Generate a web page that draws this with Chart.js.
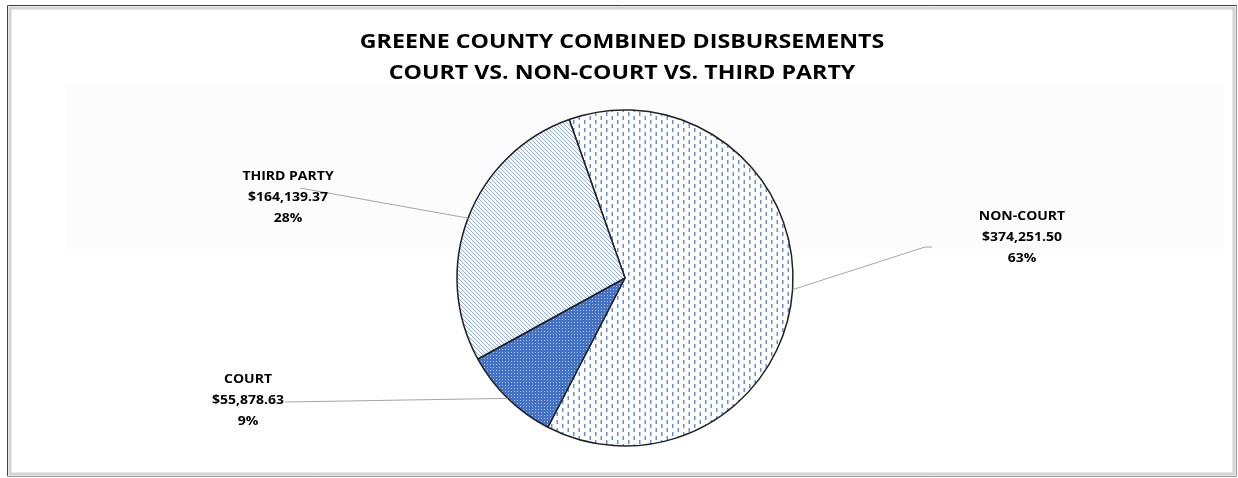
<!DOCTYPE html>
<html>
<head>
<meta charset="utf-8">
<script src="https://cdn.jsdelivr.net/npm/chart.js@4.4.1/dist/chart.umd.min.js"></script>
<style>
  html, body { margin: 0; padding: 0; background: #fff; }
  #wrap { position: relative; width: 1238px; height: 478px; }
</style>
</head>
<body>
<div id="wrap"><canvas id="pie"></canvas></div>
<script>
// data
var categories = ["NON-COURT", "COURT", "THIRD PARTY"];
var amounts = [374251.50, 55878.63, 164139.37];
var percentLabels = ["63%", "9%", "28%"];
var titleLines = ["GREENE COUNTY COMBINED DISBURSEMENTS", "COURT VS. NON-COURT VS. THIRD PARTY"];

// where each label sits (text centre) and where its leader line stops
var labelSpots = [
    {x: 1022, y: 237, lineX: 932, lineY: 247, elbowX: 925},
    {x: 248, y: 400, lineX: 285, lineY: 402},
    {x: 288, y: 197, lineX: 300, lineY: 188}
];

var cvs = document.getElementById('pie');
var ctx = cvs.getContext('2d');

function makePattern(w, h, draw) {
    var c = document.createElement('canvas');
    c.width = w;
    c.height = h;
    draw(c.getContext('2d'));
    return ctx.createPattern(c, 'repeat');
}

// white with small vertical blue dashes, every other column shifted
var dashPattern = makePattern(11, 8, function(g) {
    g.fillStyle = "#ffffff";
    g.fillRect(0, 0, 11, 8);
    g.fillStyle = "#6590dc";
    g.fillRect(1, 0, 1.5, 4);
    g.fillRect(6.5, 4, 1.5, 4);
});

// solid blue with white dots
var dotPattern = makePattern(3, 3, function(g) {
    g.fillStyle = "#4472c4";
    g.fillRect(0, 0, 3, 3);
    g.fillStyle = "rgba(255,255,255,0.55)";
    g.fillRect(1, 1, 1, 1);
});

// light diagonal hatching
var hatchPattern = makePattern(4, 4, function(g) {
    g.fillStyle = "#f7f9fc";
    g.fillRect(0, 0, 4, 4);
    g.strokeStyle = "#98aedb";
    g.lineWidth = 1;
    g.beginPath();
    g.moveTo(-1, -1); g.lineTo(5, 5);
    g.moveTo(3, -1); g.lineTo(5, 1);
    g.moveTo(-1, 3); g.lineTo(1, 5);
    g.stroke();
});

function money(v) {
    return "$" + v.toLocaleString("en-US", {minimumFractionDigits: 2, maximumFractionDigits: 2});
}

// text a bit wider than Open Sans draws it, like the original
function wideText(c, text, x, y, stretch) {
    c.save();
    c.translate(x, y);
    c.scale(stretch, 1);
    c.fillText(text, 0, 0);
    c.restore();
}

var framePlugin = {
    id: 'frame',
    beforeDraw: function(chart) {
        var c = chart.ctx;
        c.save();
        c.fillStyle = "#fff";
        c.fillRect(0, 0, chart.width, chart.height);
        c.fillStyle = "#fcfcfc";
        c.fillRect(65, 85, 1160, 165);
        c.strokeStyle = "#d4d4d4";
        c.lineWidth = 3;
        c.strokeRect(10, 8, 1224, 466);
        c.strokeStyle = "#444";
        c.lineWidth = 1;
        c.beginPath();
        c.moveTo(7.5, 476);
        c.lineTo(7.5, 5.5);
        c.lineTo(1237, 5.5);
        c.stroke();
        c.strokeStyle = "#999";
        c.beginPath();
        c.moveTo(1236.5, 5.5);
        c.lineTo(1236.5, 476.5);
        c.lineTo(7.5, 476.5);
        c.stroke();

        c.fillStyle = "#000";
        c.font = "bold 19px 'Open Sans'";
        c.textAlign = "center";
        c.textBaseline = "middle";
        wideText(c, titleLines[0], 622, 43, 1.22);
        wideText(c, titleLines[1], 622, 74, 1.22);
        c.restore();
    }
};

var labelPlugin = {
    id: 'sliceLabels',
    afterDatasetsDraw: function(chart) {
        var c = chart.ctx;
        var arcs = chart.getDatasetMeta(0).data;
        c.save();
        arcs.forEach(function(arc, i) {
            var mid = (arc.startAngle + arc.endAngle) / 2;
            var ex = arc.x + Math.cos(mid) * arc.outerRadius;
            var ey = arc.y + Math.sin(mid) * arc.outerRadius;
            var spot = labelSpots[i];
            c.strokeStyle = "#a6a6a6";
            c.lineWidth = 1;
            c.beginPath();
            c.moveTo(ex, ey);
            if (spot.elbowX) {
                c.lineTo(spot.elbowX, spot.lineY);
            }
            c.lineTo(spot.lineX, spot.lineY);
            c.stroke();

            c.fillStyle = "#000";
            c.font = "bold 12.5px 'Open Sans'";
            c.textAlign = "center";
            c.textBaseline = "middle";
            wideText(c, categories[i], spot.x, spot.y - 21, 1.12);
            wideText(c, money(amounts[i]), spot.x, spot.y, 1.12);
            wideText(c, percentLabels[i], spot.x, spot.y + 21, 1.12);
        });
        c.restore();
    }
};

new Chart(cvs, {
    type: "pie",
    data: {
        labels: categories,
        datasets: [{
            data: amounts,
            backgroundColor: [dashPattern, dotPattern, hatchPattern],
            borderColor: "#222",
            borderWidth: 1.5
        }]
    },
    options: {
        responsive: true,
        maintainAspectRatio: false,
        animation: false,
        rotation: -19.4,
        radius: 168,
        layout: {padding: {top: 96, bottom: 18, left: 12, right: 0}},
        plugins: {
            legend: {display: false},
            tooltip: {enabled: false},
            title: {display: false}
        }
    },
    plugins: [framePlugin, labelPlugin]
});
</script>
</body>
</html>
